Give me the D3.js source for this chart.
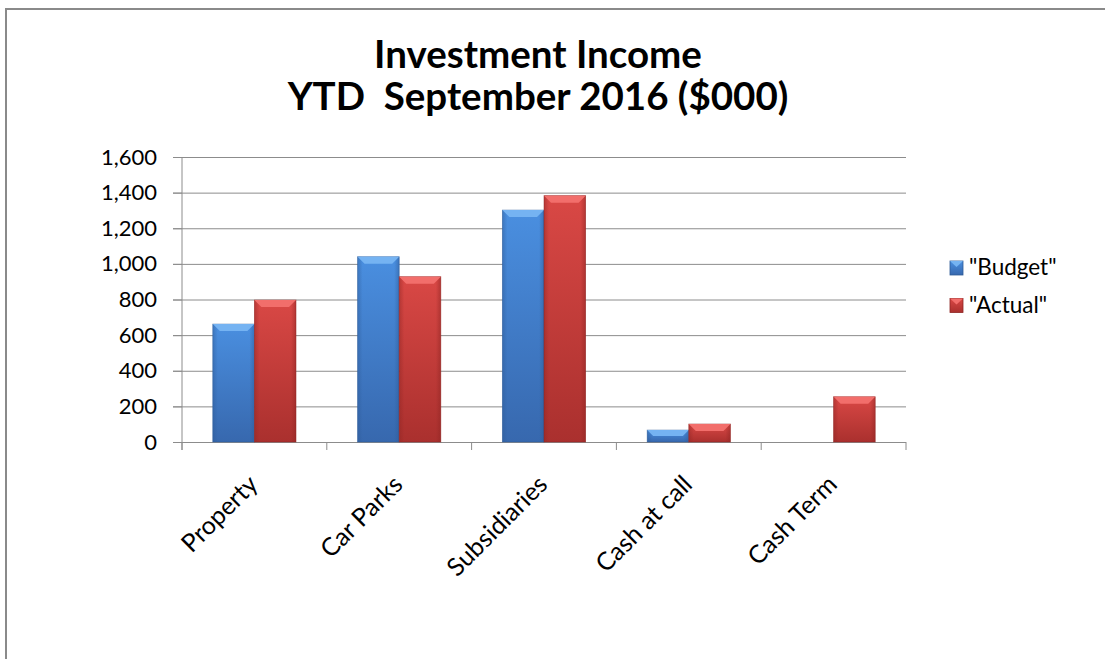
<!DOCTYPE html>
<html>
<head>
<meta charset="utf-8">
<script src="https://cdn.jsdelivr.net/npm/d3@7"></script>
<style>
  body { margin: 0; background: #fff; }
  text { font-family: Lato, "Open Sans", sans-serif; fill: #000; }
</style>
</head>
<body>
<script>
var categories = ['Property', 'Car Parks', 'Subsidiaries', 'Cash at call', 'Cash Term'];
var seriesNames = ['"Budget"', '"Actual"'];
var budget = [662, 1040, 1302, 67, 0];
var actual = [797, 928, 1383, 101, 254];
var yTicks = [0, 200, 400, 600, 800, 1000, 1200, 1400, 1600];
var titleLines = ['Investment Income', 'YTD  September 2016 ($000)'];

var width = 1105;
var height = 659;
// plot area (named to avoid clashing with window.top)
var plotLeft = 182, plotRight = 906, plotTop = 157, plotBottom = 442;

var svg = d3.select('body').append('svg')
  .attr('width', width)
  .attr('height', height);

// chart frame
svg.append('rect')
  .attr('x', 6).attr('y', 9)
  .attr('width', width + 20).attr('height', height + 20)
  .attr('fill', '#fff')
  .attr('stroke', '#8a8a8a')
  .attr('stroke-width', 2);

var palette = [
  { main: ['#4a8fe0', '#3768ae'], bevel: '#75b3f2', edge: '#2d5a96' },
  { main: ['#d94845', '#aa302e'], bevel: '#f26e6b', edge: '#8e2523' }
];

var defs = svg.append('defs');
palette.forEach(function(p, i) {
  var g = defs.append('linearGradient')
    .attr('id', 'grad' + i)
    .attr('x1', 0).attr('y1', 0).attr('x2', 0).attr('y2', 1);
  g.append('stop').attr('offset', '0%').attr('stop-color', p.main[0]);
  g.append('stop').attr('offset', '100%').attr('stop-color', p.main[1]);
  var s = defs.append('linearGradient')
    .attr('id', 'side' + i)
    .attr('x1', 0).attr('y1', 0).attr('x2', 1).attr('y2', 0);
  s.append('stop').attr('offset', '0%').attr('stop-color', p.edge).attr('stop-opacity', 0.45);
  s.append('stop').attr('offset', '12%').attr('stop-color', p.edge).attr('stop-opacity', 0);
  s.append('stop').attr('offset', '88%').attr('stop-color', p.edge).attr('stop-opacity', 0);
  s.append('stop').attr('offset', '100%').attr('stop-color', p.edge).attr('stop-opacity', 0.5);
});

// title
svg.selectAll('.title')
  .data(titleLines)
  .enter()
    .append('text')
    .attr('class', 'title')
    .attr('x', 538)
    .attr('y', function(d, i) { return 68 + i * 42; })
    .attr('text-anchor', 'middle')
    .attr('font-size', 38.5)
    .attr('font-weight', 'bold')
    .style('white-space', 'pre')
    .text(function(d) { return d; });

var x = d3.scaleBand()
  .domain(categories)
  .range([plotLeft, plotRight]);

var x1 = d3.scaleBand()
  .domain([0, 1])
  .range([0, x.bandwidth()])
  .paddingOuter(0.74);

var y = d3.scaleLinear()
  .domain([0, 1600])
  .range([plotBottom, plotTop]);

// gridlines
svg.append('g')
  .attr('class', 'grid')
  .attr('transform', 'translate(' + (plotLeft - 9) + ',0)')
  .call(d3.axisLeft(y).tickValues(yTicks).tickSize(-(plotRight - plotLeft + 9)).tickFormat(''))
  .call(function(g) {
    g.select('.domain').remove();
    g.selectAll('line').attr('stroke', '#8c8c8c');
  });

// y axis labels
svg.append('g')
  .attr('transform', 'translate(' + plotLeft + ',0)')
  .call(d3.axisLeft(y).tickValues(yTicks).tickSize(9).tickPadding(16).tickFormat(d3.format(',')))
  .call(function(g) {
    g.select('.domain').attr('stroke', '#8c8c8c').attr('d', 'M0,' + plotTop + 'V' + (plotBottom + 8));
    g.selectAll('line').attr('stroke', '#8c8c8c');
    g.selectAll('text').attr('font-size', 22).attr('font-family', 'Lato').attr('fill', '#000');
  });

// category boundary ticks
var bounds = categories.map(function(c) { return x(c); }).concat([plotRight]);
svg.selectAll('.xtick')
  .data(bounds)
  .enter()
    .append('line')
    .attr('class', 'xtick')
    .attr('x1', function(d) { return d; })
    .attr('x2', function(d) { return d; })
    .attr('y1', plotBottom)
    .attr('y2', plotBottom + 8)
    .attr('stroke', '#8c8c8c');

// x labels
svg.selectAll('.xlabel')
  .data(categories)
  .enter()
    .append('text')
    .attr('class', 'xlabel')
    .attr('text-anchor', 'end')
    .attr('font-size', 25)
    .attr('transform', function(d) {
      return 'translate(' + (x(d) + x.bandwidth() / 2 + 5) + ',' + 486 + ') rotate(-45)';
    })
    .text(function(d) { return d; });

// bars
var rows = [];
categories.forEach(function(c, i) {
  rows.push({ cat: c, s: 0, v: budget[i] });
  rows.push({ cat: c, s: 1, v: actual[i] });
});
rows = rows.filter(function(d) { return d.v > 0; });

var bar = svg.selectAll('.bar')
  .data(rows)
  .enter()
    .append('g')
    .attr('class', 'bar')
    .attr('transform', function(d) { return 'translate(' + (x(d.cat) + x1(d.s)) + ',' + y(d.v) + ')'; });

bar.append('rect')
  .attr('width', x1.bandwidth())
  .attr('height', function(d) { return plotBottom - y(d.v); })
  .attr('fill', function(d) { return 'url(#grad' + d.s + ')'; })
  .attr('stroke', function(d) { return palette[d.s].edge; })
  .attr('stroke-opacity', 0.6)
  .attr('stroke-width', 0.8);

bar.append('rect')
  .attr('width', x1.bandwidth())
  .attr('height', function(d) { return plotBottom - y(d.v); })
  .attr('fill', function(d) { return 'url(#side' + d.s + ')'; });

bar.append('path')
  .attr('d', function(d) {
    var w = x1.bandwidth();
    var b = Math.min(7, (plotBottom - y(d.v)) / 2);
    return 'M0,0H' + w + 'L' + (w - b) + ',' + b + 'H' + b + 'Z';
  })
  .attr('fill', function(d) { return palette[d.s].bevel; });

// legend
var legend = svg.selectAll('.legend')
  .data(seriesNames)
  .enter()
    .append('g')
    .attr('class', 'legend')
    .attr('transform', function(d, i) { return 'translate(950,' + (261 + i * 37.5) + ')'; });

legend.append('rect')
  .attr('width', 13)
  .attr('height', 14)
  .attr('fill', function(d, i) { return 'url(#grad' + i + ')'; })
  .attr('stroke', function(d, i) { return palette[i].edge; })
  .attr('stroke-width', 0.8);

legend.append('path')
  .attr('d', 'M0,0H13L6.5,6Z')
  .attr('fill', function(d, i) { return palette[i].bevel; });

legend.append('text')
  .attr('x', 19)
  .attr('y', 14)
  .attr('font-size', 22.5)
  .text(function(d) { return d; });
</script>
</body>
</html>
